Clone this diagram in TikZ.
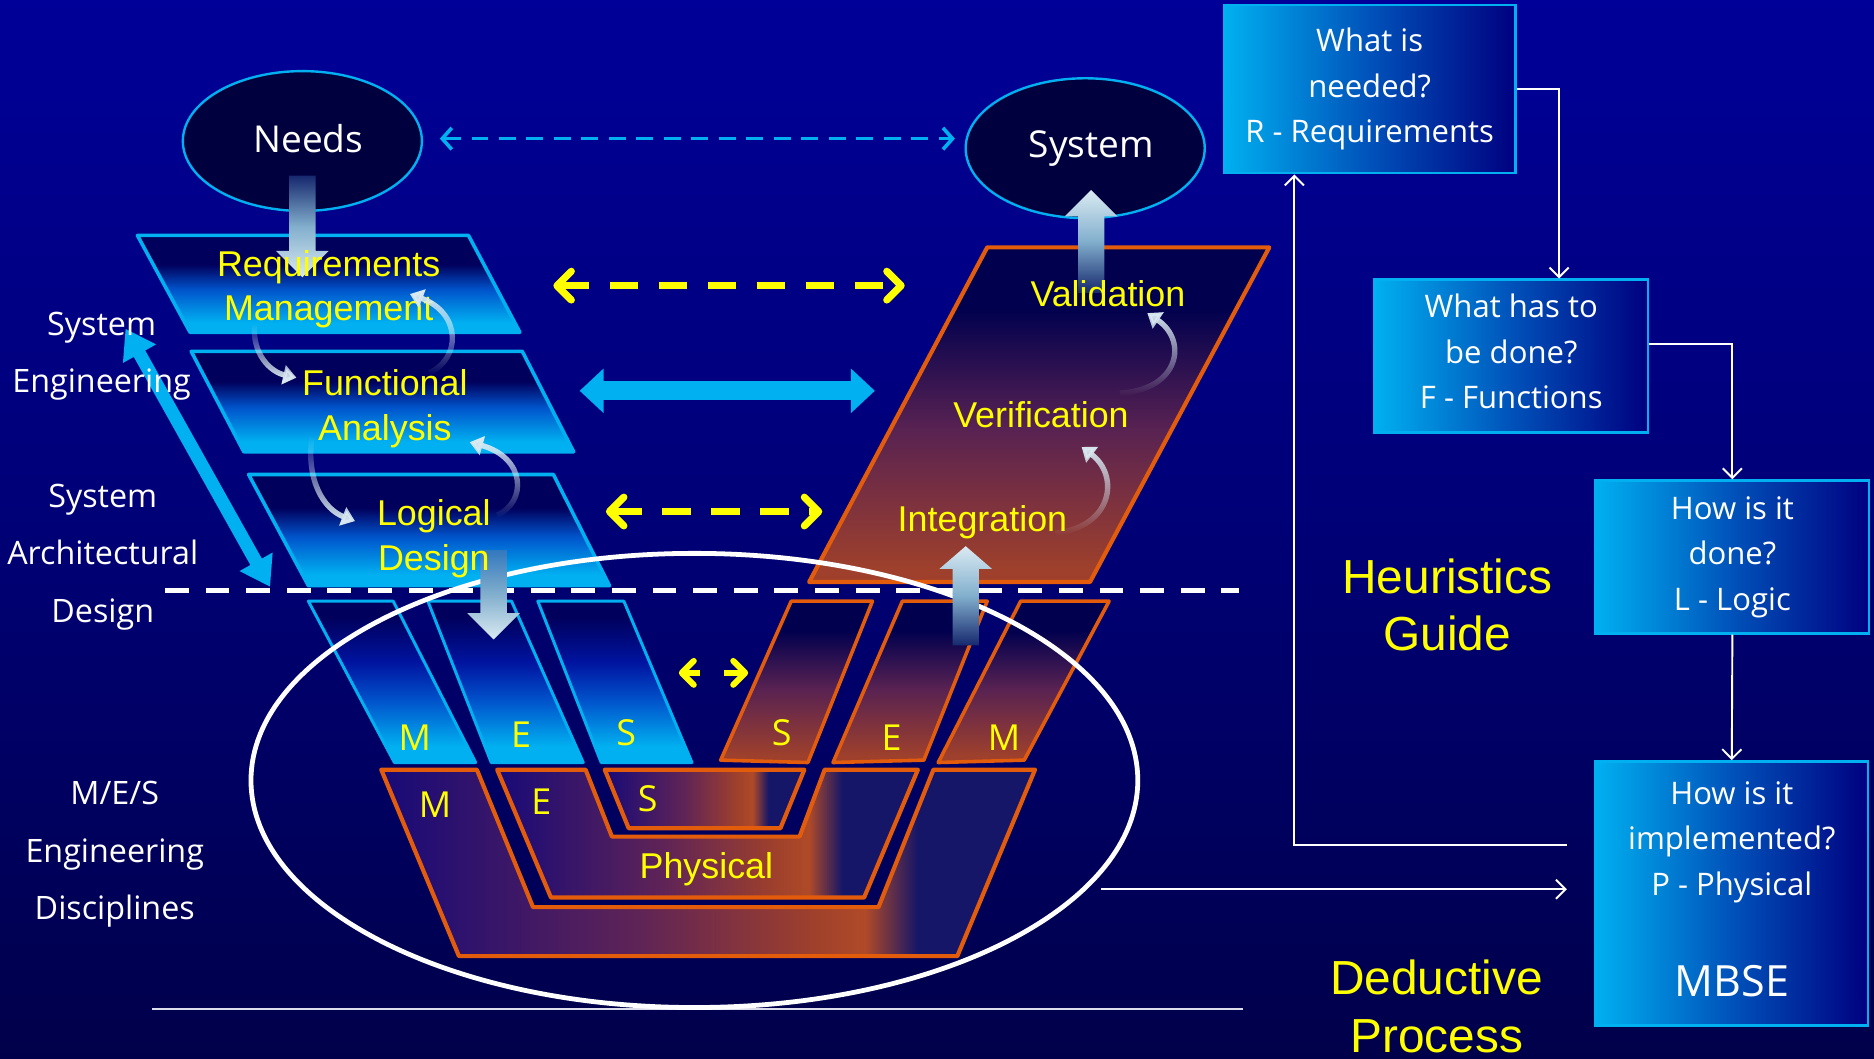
\documentclass[tikz,border=0pt]{standalone}
\usepackage{fontspec}
\setmainfont{Open Sans}
\newfontfamily\arialf{Liberation Sans}
\usetikzlibrary{arrows.meta,shapes.geometric,fadings}

% colours
\definecolor{bgtop}{RGB}{0,0,152}
\definecolor{bgmid}{RGB}{0,0,118}
\definecolor{bgbot}{RGB}{0,0,74}
\definecolor{cyanB}{RGB}{0,176,240}
\definecolor{deepnavy}{RGB}{0,0,62}
\definecolor{parnavy}{RGB}{0,0,92}
\definecolor{parblue}{RGB}{0,84,204}
\definecolor{stripeblue}{RGB}{0,20,160}
\definecolor{orangeB}{RGB}{226,92,12}
\definecolor{brownR}{RGB}{158,64,44}
\definecolor{plum}{RGB}{88,34,82}
\definecolor{vnavy}{RGB}{0,0,78}
\definecolor{yel}{RGB}{255,255,0}
\definecolor{pale}{RGB}{218,234,242}
\definecolor{palemid}{RGB}{130,175,205}
\definecolor{shaftdark}{RGB}{22,40,110}
\definecolor{shaftblue}{RGB}{50,120,190}
\definecolor{boxmid}{RGB}{0,82,186}
\definecolor{boxnavy}{RGB}{0,0,128}
\definecolor{phleft}{RGB}{24,10,120}
\definecolor{phmid}{RGB}{96,36,86}
\definecolor{phpeak}{RGB}{176,74,40}
\definecolor{phright}{RGB}{22,22,104}
\definecolor{rule}{RGB}{220,220,235}

% fills of the bands
\pgfdeclareverticalshading{bluepar}{100bp}{color(0bp)=(cyanB); color(30bp)=(cyanB); color(47bp)=(parblue); color(60bp)=(parnavy); color(100bp)=(parnavy)}
\pgfdeclareverticalshading{bluestripe}{100bp}{color(0bp)=(cyanB); color(30bp)=(cyanB); color(44bp)=(parblue); color(56bp)=(stripeblue); color(70bp)=(parnavy); color(100bp)=(parnavy)}
\pgfdeclareverticalshading{redpar}{100bp}{color(0bp)=(brownR); color(27bp)=(brownR); color(48bp)=(plum); color(66bp)=(vnavy); color(100bp)=(vnavy)}
\pgfdeclarehorizontalshading{physical}{100bp}{color(0bp)=(phleft); color(25bp)=(phleft); color(45bp)=(phmid); color(58bp)=(brownR); color(62bp)=(phpeak); color(66bp)=(phright); color(100bp)=(phright)}

\tikzset{
  bluebox/.style={shade, shading=bluepar, draw=cyanB, line width=3pt, line join=round},
  bluestr/.style={shade, shading=bluestripe, draw=cyanB, line width=2.5pt, line join=round},
  redbox/.style={shade, shading=redpar, draw=orangeB, line width=3.5pt, line join=round},
  redstr/.style={shade, shading=redpar, draw=orangeB, line width=3pt, line join=round},
  physband/.style={shade, shading=physical, draw=orangeB, line width=3.5pt, line join=round},
  ylabel/.style={text=yel, font=\arialf\fontsize{30}{37.5}\selectfont, align=center, inner sep=0pt},
  yletter/.style={text=yel, font=\fontsize{30}{36}\selectfont, inner sep=0pt},
  wlabel/.style={text=white, font=\fontsize{27}{48}\selectfont, align=center, inner sep=0pt},
  bigy/.style={text=yel, font=\arialf\fontsize{40}{48}\selectfont, align=center, inner sep=0pt},
  bubble/.style={ellipse, draw=cyanB, line width=2pt, fill=deepnavy, text=white, font=\fontsize{31}{36}\selectfont, minimum width=200pt, minimum height=117pt, inner sep=0pt},
  qbox/.style={rectangle, draw=cyanB, line width=2pt, left color=cyanB, right color=boxnavy, middle color=boxmid, text=white, font=\fontsize{26}{38}\selectfont, align=center, inner sep=0pt},
  conn/.style={draw=white, line width=1.6pt, -{Straight Barb[length=8pt,width=16pt]}},
  ydash/.style={draw=yel, line width=6pt, dash pattern=on 24pt off 17pt, {Straight Barb[length=12pt,width=24pt,round]}-{Straight Barb[length=12pt,width=24pt,round]}},
  ytip/.style={draw=yel, line width=5pt, -{Straight Barb[length=10pt,width=20pt,round]}},
  cdash/.style={draw=cyanB, line width=3pt, dash pattern=on 14pt off 9pt, {Straight Barb[length=8pt,width=18pt]}-{Straight Barb[length=8pt,width=18pt]}},
  fatarrow/.style={draw=cyanB, line width=16pt, {Triangle[length=20pt,width=36pt]}-{Triangle[length=20pt,width=36pt]}},
  slantarrow/.style={draw=cyanB, line width=11pt, {Triangle[length=24pt,width=30pt]}-{Triangle[length=24pt,width=30pt]}},
  curl/.style={draw=pale, line width=4.5pt, -{Triangle[length=11pt,width=16pt]}},
}

\begin{document}
\begin{tikzpicture}[x=1pt,y=-1pt]
\useasboundingbox (0,0) rectangle (1568,886);
% backdrop
\shade[top color=bgtop, bottom color=bgbot, middle color=bgmid] (0,0) rectangle (1568,886);

% left side: system engineering bands
\path[bluebox] (115,197) -- (392,197) -- (435,278) -- (159,278) -- cycle;
\path[bluebox] (160,294) -- (437,294) -- (480,378) -- (204,378) -- cycle;
\path[bluebox] (208,397) -- (463,397) -- (510,490) -- (258,490) -- cycle;

% right side: integration band
\path[redbox] (826,207) -- (1062,207) -- (912,487) -- (677,487) -- cycle;

% discipline stripes
\path[bluestr] (258,503) -- (329,503) -- (398,638) -- (330,638) -- cycle;
\path[bluestr] (358,503) -- (428,503) -- (488,638) -- (411,638) -- cycle;
\path[bluestr] (450,503) -- (522,503) -- (579,638) -- (503,638) -- cycle;
\path[redstr] (662,503) -- (730,503) -- (676,638) -- (603,636) -- cycle;
\path[redstr] (755,503) -- (826,503) -- (773,636) -- (697,638) -- cycle;
\path[redstr] (854,503) -- (928,503) -- (857,636) -- (785,638) -- cycle;

% physical layers
\path[physband] (319,644) -- (399,644) -- (446,759) -- (735,759) -- (781,644) -- (866,644) -- (801,800) -- (384,800) -- cycle;
\path[physband] (416,644) -- (490,644) -- (512,700) -- (669,700) -- (690,644) -- (768,644) -- (723,751) -- (461,751) -- cycle;
\path[physband] (506,644) -- (673,644) -- (653,693) -- (526,693) -- cycle;

% level separator and base rule
\coordinate (sepL) at (138,494);
\coordinate (sepR) at (1037,494);
\draw[white, line width=4.5pt, dash pattern=on 20pt off 14pt] (sepL) -- (sepR);
\coordinate (ruleL) at (127,844);
\coordinate (ruleR) at (1040,844);
\draw[rule, line width=2pt] (ruleL) -- (ruleR);

% slanted arrow of the system levels
\coordinate (slTop) at (105,275);
\coordinate (slBot) at (226,491);
\draw[slantarrow] (slTop) -- (slBot);

% side labels
\node[wlabel] (lblSE) at (85,298) {System\\Engineering};
\node[wlabel] (lblSAD) at (86,466) {System\\Architectural\\Design};
\node[wlabel] (lblMES) at (96,715) {M/E/S\\Engineering\\Disciplines};

% discipline ring
\node[ellipse, draw=white, line width=4pt, minimum width=742pt, minimum height=380pt, inner sep=0pt] (mesring) at (581,653) {};

% needs and system
\node[bubble] (needs) at (253,118) {\raisebox{5pt}{\hspace{10pt}Needs}};
\node[bubble] (system) at (908,124) {\raisebox{3pt}{\hspace{10pt}System}};
\draw[cdash] ([xshift=14pt,yshift=2pt]needs.east) -- ([xshift=-8pt,yshift=8pt]system.west);

% flow arrows
\shade[top color=shaftdark, bottom color=pale, middle color=palemid] (242,147) -- (264,147) -- (264,210) -- (275,210) -- (253,232) -- (231,210) -- (242,210) -- cycle;
\shade[top color=pale, bottom color=shaftdark, middle color=palemid] (913,159) -- (935,181) -- (924,181) -- (924,245) -- (902,245) -- (902,181) -- (891,181) -- cycle;
\shade[top color=shaftblue, bottom color=pale, middle color=palemid] (402,460) -- (424,460) -- (424,513) -- (435,513) -- (413,535) -- (391,513) -- (402,513) -- cycle;
\shade[top color=pale, bottom color=shaftdark, middle color=palemid] (808,457) -- (830,476) -- (819,476) -- (819,540) -- (797,540) -- (797,476) -- (786,476) -- cycle;

% band texts
\node[ylabel] (tRM) at (275,242) {Requirements\\Management};
\node[ylabel] (tFA) at (322,342) {Functional\\Analysis};
\node[ylabel] (tLD) at (363,451) {Logical\\Design};
\node[ylabel] (tVal) at (927,246) {Validation};
\node[ylabel] (tVer) at (871,347) {Verification};
\node[ylabel] (tInt) at (822,437) {Integration};

\node[yletter] (sM1) at (347,617) {M};
\node[yletter] (sE1) at (436,615) {E};
\node[yletter] (sS1) at (524,613) {S};
\node[yletter] (sS2) at (654,613) {S};
\node[yletter] (sE2) at (746,617) {E};
\node[yletter] (sM2) at (840,617) {M};
\node[yletter] (pM) at (364,673) {M};
\node[yletter] (pE) at (453,671) {E};
\node[yletter] (pS) at (542,668) {S};
\node[ylabel] (pPhys) at (591,727) {Physical};

% correspondence arrows between the two sides
\coordinate (y1a) at (463,239); \coordinate (y1b) at (757,239);
\draw[ydash] (y1a) -- (y1b);
\coordinate (y2a) at (507,428); \coordinate (y2b) at (688,428);
\draw[ydash] (y2a) -- (y2b);
\coordinate (c1a) at (586,563); \coordinate (c1b) at (568,563);
\coordinate (c2a) at (606,563); \coordinate (c2b) at (626,563);
\draw[ytip] (c1a) -- (c1b);
\draw[ytip] (c2a) -- (c2b);
\coordinate (fa) at (485,327); \coordinate (fb) at (732,327);
\draw[fatarrow] (fa) -- (fb);

% turning arrows between steps
\draw[curl, path fading=north] (213,272) .. controls (211,296) and (226,311) .. (248,316);
\draw[curl, path fading=south] (359,312) .. controls (386,300) and (386,262) .. (343,246);
\draw[curl, path fading=north] (261,366) .. controls (256,402) and (271,426) .. (297,436);
\draw[curl, path fading=south] (416,431) .. controls (441,420) and (440,383) .. (393,370);
\draw[curl, path fading=south] (937,329) .. controls (987,326) and (994,285) .. (960,262);
\draw[curl, path fading=south] (883,446) .. controls (931,441) and (937,398) .. (905,374);

% heuristics chain
\node[qbox, minimum width=244pt, minimum height=141pt] (qR) at (1146,74.5) {What is\\needed?\\R - Requirements};
\node[qbox, minimum width=229pt, minimum height=128pt] (qF) at (1264.5,298) {What has to\\be done?\\F - Functions\rule[-8pt]{0pt}{8pt}};
\node[qbox, minimum width=229pt, minimum height=128pt] (qL) at (1449.5,466) {How is it\\done?\\L - Logic};
\node[qbox, minimum width=228pt, minimum height=221pt] (qP) at (1449,747.5) {How is it\\implemented?\\P - Physical\\[47pt]{\fontsize{36}{40}\selectfont MBSE}\rule[-7pt]{0pt}{7pt}};

\draw[conn] (qR.east) -| ([xshift=40pt]qF.north);
\draw[conn] ([yshift=10pt]qF.east) -| (qL.north);
\draw[conn] (qL.south) -- (qP.north);
\coordinate (loopstart) at (1311,707);
\draw[conn] (loopstart) -| ([xshift=60pt]qR.south west);
\coordinate (ringout) at (921,744);
\coordinate (pin) at (1311,744);
\draw[conn] (ringout) -- (pin);

\node[bigy] (heur) at (1211,506) {Heuristics\\Guide};
\node[bigy] (deduct) at (1202,842) {Deductive\\Process};
\end{tikzpicture}
\end{document}
